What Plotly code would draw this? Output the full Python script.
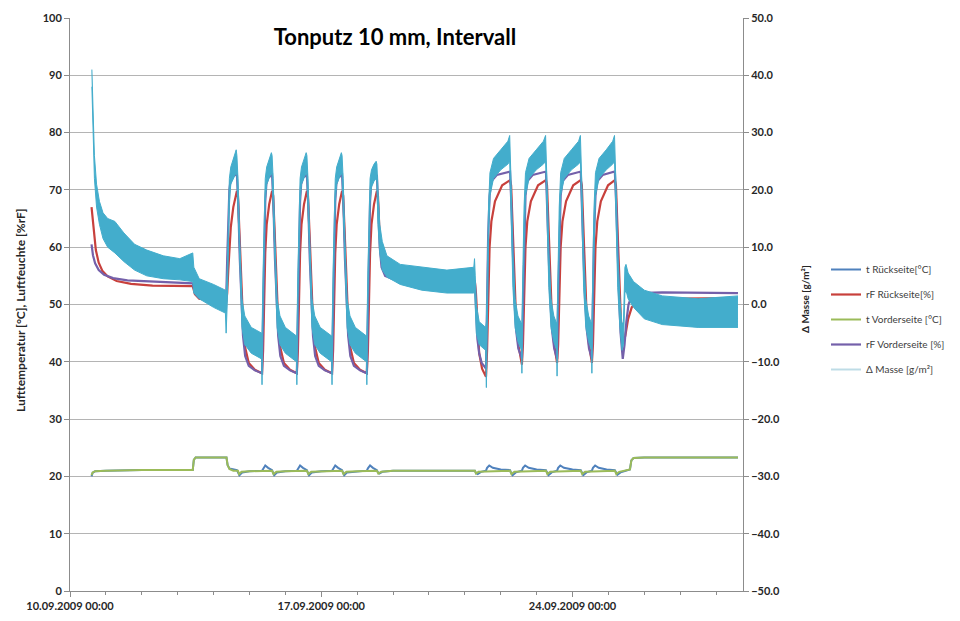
import pandas as pd
import plotly.graph_objects as go

BASE = pd.Timestamp("2009-09-10 00:00")

# ---------------- data (time in days since 10.09.2009 00:00) ----------------
# rF Vorderseite [%]
rf_vorder = [
    (0.60, 60.5), (0.64, 58.6), (0.70, 57.2), (0.80, 56.0), (0.95, 55.2), (1.20, 54.6), (1.60, 54.2),
    (2.20, 54.0), (3.00, 53.8), (3.42, 53.7), (3.48, 52.0), (3.60, 51.2), (4.00, 50.8), (4.35, 50.6),
    (4.38, 58.0), (4.41, 66.0), (4.44, 70.0), (4.47, 71.5), (4.53, 72.3), (4.65, 72.8),
    (4.69, 67.0), (4.73, 58.0), (4.77, 50.5), (4.82, 44.5), (4.88, 41.0), (4.98, 39.3), (5.15, 38.5), (5.35, 38.0),
    (5.38, 48.0), (5.41, 60.0), (5.44, 68.0), (5.47, 71.0), (5.53, 72.2), (5.63, 72.6),
    (5.67, 67.0), (5.71, 58.0), (5.75, 50.5), (5.80, 44.5), (5.86, 41.0), (5.96, 39.3), (6.13, 38.5), (6.32, 38.0),
    (6.35, 48.0), (6.38, 60.0), (6.41, 68.0), (6.44, 71.0), (6.50, 72.2), (6.60, 72.6),
    (6.64, 67.0), (6.68, 58.0), (6.72, 50.5), (6.77, 44.5), (6.83, 41.0), (6.93, 39.3), (7.10, 38.5), (7.30, 38.0),
    (7.33, 48.0), (7.36, 60.0), (7.39, 68.0), (7.42, 71.0), (7.48, 72.2), (7.58, 72.6),
    (7.62, 67.0), (7.66, 58.0), (7.70, 50.5), (7.75, 44.5), (7.81, 41.0), (7.91, 39.3), (8.08, 38.5), (8.27, 38.0),
    (8.30, 48.0), (8.33, 60.0), (8.36, 68.0), (8.39, 71.0), (8.45, 72.2), (8.55, 72.6),
    (8.59, 66.0), (8.63, 60.0), (8.68, 56.5), (8.78, 55.0), (9.00, 54.4), (9.60, 54.1), (11.28, 54.0),
    (11.31, 49.0), (11.35, 44.0), (11.40, 41.5), (11.47, 39.8), (11.59, 38.8),
    (11.62, 50.0), (11.65, 62.0), (11.69, 69.0), (11.74, 71.5), (11.89, 72.6), (12.26, 73.2),
    (12.30, 67.0), (12.34, 58.0), (12.38, 51.0), (12.43, 45.5), (12.49, 42.3), (12.59, 40.5),
    (12.62, 51.0), (12.65, 62.0), (12.69, 69.0), (12.74, 71.5), (12.89, 72.6), (13.26, 73.2),
    (13.30, 67.0), (13.34, 58.0), (13.38, 51.0), (13.43, 45.5), (13.49, 42.3), (13.57, 40.5),
    (13.60, 51.0), (13.63, 62.0), (13.67, 69.0), (13.72, 71.5), (13.87, 72.6), (14.23, 73.2),
    (14.27, 67.0), (14.31, 58.0), (14.35, 51.0), (14.40, 45.5), (14.46, 42.3), (14.54, 40.5),
    (14.57, 51.0), (14.60, 62.0), (14.64, 69.0), (14.69, 71.5), (14.84, 72.6), (15.18, 73.2),
    (15.22, 67.0), (15.26, 58.0), (15.30, 51.0), (15.34, 45.0), (15.40, 40.5),
    (15.45, 43.0), (15.50, 47.0), (15.56, 50.0), (15.65, 51.5), (15.80, 52.0), (16.50, 52.1), (18.61, 52.0),
]

# rF Rückseite [%]
rf_rueck = [
    (0.60, 67.0), (0.62, 65.5), (0.66, 62.5), (0.72, 59.5), (0.80, 57.3), (0.90, 55.9), (1.05, 54.9),
    (1.30, 54.1), (1.70, 53.6), (2.30, 53.3), (3.42, 53.2), (3.48, 51.8), (3.60, 51.0), (4.00, 50.6), (4.35, 50.4),
    (4.38, 52.0), (4.41, 56.0), (4.44, 60.0), (4.48, 63.5), (4.55, 67.0), (4.65, 69.8),
    (4.68, 69.0), (4.72, 63.0), (4.77, 54.0), (4.82, 47.0), (4.88, 42.5), (4.98, 39.8), (5.15, 38.6), (5.35, 38.0),
    (5.38, 42.0), (5.41, 52.0), (5.44, 59.0), (5.48, 64.0), (5.55, 67.5), (5.63, 69.8),
    (5.66, 69.0), (5.70, 63.0), (5.75, 54.0), (5.80, 47.0), (5.86, 42.5), (5.96, 39.8), (6.13, 38.6), (6.32, 38.0),
    (6.35, 42.0), (6.38, 52.0), (6.41, 59.0), (6.45, 64.0), (6.52, 67.5), (6.60, 69.8),
    (6.63, 69.0), (6.67, 63.0), (6.72, 54.0), (6.77, 47.0), (6.83, 42.5), (6.93, 39.8), (7.10, 38.6), (7.30, 38.0),
    (7.33, 42.0), (7.36, 52.0), (7.39, 59.0), (7.43, 64.0), (7.50, 67.5), (7.58, 69.8),
    (7.61, 69.0), (7.65, 63.0), (7.70, 54.0), (7.75, 47.0), (7.81, 42.5), (7.91, 39.8), (8.08, 38.6), (8.27, 38.0),
    (8.30, 42.0), (8.33, 52.0), (8.36, 59.0), (8.40, 64.0), (8.47, 67.5), (8.55, 69.8),
    (8.58, 69.0), (8.62, 63.0), (8.68, 58.0), (8.78, 55.5), (9.00, 54.5), (9.60, 54.1), (11.28, 54.0),
    (11.31, 52.0), (11.35, 46.0), (11.40, 41.5), (11.48, 38.8), (11.59, 37.4),
    (11.62, 42.0), (11.65, 53.0), (11.69, 60.0), (11.74, 64.5), (11.84, 68.0), (12.04, 70.8), (12.26, 71.7),
    (12.29, 70.8), (12.33, 64.0), (12.38, 54.0), (12.43, 47.0), (12.49, 43.0), (12.59, 39.5),
    (12.62, 43.0), (12.65, 53.0), (12.69, 60.0), (12.74, 64.5), (12.84, 68.0), (13.04, 70.8), (13.26, 71.7),
    (13.29, 70.8), (13.33, 64.0), (13.38, 54.0), (13.43, 47.0), (13.49, 43.0), (13.57, 39.8),
    (13.60, 43.0), (13.63, 53.0), (13.67, 60.0), (13.72, 64.5), (13.82, 68.0), (14.02, 70.8), (14.23, 71.7),
    (14.26, 70.8), (14.30, 64.0), (14.35, 54.0), (14.40, 47.0), (14.46, 43.0), (14.54, 39.8),
    (14.57, 43.0), (14.60, 53.0), (14.64, 60.0), (14.69, 64.5), (14.79, 68.0), (14.99, 70.8), (15.18, 71.7),
    (15.21, 70.8), (15.25, 64.0), (15.30, 54.0), (15.35, 47.0), (15.41, 43.5), (15.47, 44.5), (15.55, 47.5),
    (15.65, 49.5), (15.80, 50.6), (16.10, 51.0), (18.61, 51.1),
]

# t Vorderseite [°C]
t_vorder = [
    (0.60, 20.2), (0.63, 20.7), (0.70, 20.9), (1.00, 21.0), (2.00, 21.1), (3.42, 21.1), (3.45, 22.9),
    (3.50, 23.3), (4.36, 23.3), (4.39, 22.0), (4.44, 21.3), (4.55, 21.0), (4.68, 21.0), (4.71, 20.4),
    (4.78, 20.8), (5.00, 20.9), (5.63, 21.0), (5.67, 20.4), (5.75, 20.8), (6.00, 20.9), (6.60, 21.0),
    (6.64, 20.4), (6.72, 20.8), (7.00, 20.9), (7.58, 21.0), (7.62, 20.4), (7.70, 20.8), (8.00, 20.9),
    (8.55, 21.0), (8.59, 20.5), (8.67, 20.8), (9.00, 21.0), (11.28, 21.0), (11.31, 20.5), (11.38, 20.8),
    (12.26, 21.0), (12.30, 20.4), (12.38, 20.8), (13.26, 21.0), (13.30, 20.4), (13.38, 20.8),
    (14.23, 21.0), (14.27, 20.4), (14.35, 20.8), (15.18, 21.0), (15.22, 20.4), (15.30, 20.8),
    (15.60, 21.2), (15.64, 22.8), (15.70, 23.2), (16.00, 23.3), (18.61, 23.3),
]

# t Rückseite [°C]
t_rueck = [
    (0.60, 20.0), (0.63, 20.6), (0.70, 20.9), (1.00, 21.0), (2.00, 21.1), (3.42, 21.1), (3.45, 22.9),
    (3.50, 23.3), (4.36, 23.3), (4.39, 22.0), (4.44, 21.4), (4.55, 21.2), (4.65, 21.1), (4.69, 20.6),
    (4.72, 20.2), (4.80, 20.7), (5.00, 20.9),
    (5.35, 21.0), (5.38, 21.4), (5.44, 21.9), (5.52, 21.5), (5.63, 21.1), (5.66, 20.6), (5.69, 20.2), (5.77, 20.7), (6.00, 20.9),
    (6.32, 21.0), (6.35, 21.4), (6.41, 21.9), (6.49, 21.5), (6.60, 21.1), (6.63, 20.6), (6.66, 20.2), (6.74, 20.7), (7.00, 20.9),
    (7.30, 21.0), (7.33, 21.4), (7.39, 21.9), (7.47, 21.5), (7.58, 21.1), (7.61, 20.6), (7.64, 20.2), (7.72, 20.7), (8.00, 20.9),
    (8.27, 21.0), (8.30, 21.4), (8.36, 21.9), (8.44, 21.5), (8.55, 21.1), (8.58, 20.7), (8.62, 20.5), (8.70, 20.8), (9.00, 21.0),
    (11.28, 21.0), (11.31, 20.6), (11.36, 20.4), (11.45, 20.8),
    (11.59, 21.0), (11.62, 21.5), (11.68, 21.9), (11.78, 21.5), (12.00, 21.2), (12.26, 21.1), (12.29, 20.6), (12.33, 20.2), (12.42, 20.7),
    (12.59, 21.0), (12.62, 21.5), (12.68, 21.9), (12.78, 21.5), (13.00, 21.2), (13.26, 21.1), (13.29, 20.6), (13.33, 20.2), (13.42, 20.7),
    (13.57, 21.0), (13.60, 21.5), (13.66, 21.9), (13.76, 21.5), (14.00, 21.2), (14.23, 21.1), (14.26, 20.6), (14.30, 20.2), (14.39, 20.7),
    (14.54, 21.0), (14.57, 21.5), (14.63, 21.9), (14.73, 21.5), (14.95, 21.2), (15.18, 21.1), (15.21, 20.6), (15.25, 20.3), (15.34, 20.7),
    (15.60, 21.2), (15.64, 22.8), (15.70, 23.2), (16.00, 23.3), (18.61, 23.3),
]

# Δ Masse [g/m²]: (time, lower edge, upper edge) of the noisy band
d_masse = [
    (0.61, 38.0, 41.0), (0.64, 30.0, 34.0), (0.68, 22.0, 26.0), (0.74, 17.0, 21.0), (0.82, 14.0, 18.0),
    (0.92, 11.5, 16.0), (1.05, 10.0, 15.0), (1.25, 9.0, 14.5), (1.50, 7.5, 12.5), (1.80, 6.0, 10.5),
    (2.14, 5.0, 9.5), (2.60, 4.5, 8.5), (3.06, 4.3, 8.0), (3.42, 4.0, 9.0), (3.45, 2.0, 6.5),
    (3.60, 1.0, 4.5), (4.00, -0.5, 3.5), (4.33, -1.5, 2.5),
    (4.35, -5.0, 2.0), (4.38, 0.0, 6.0), (4.41, 11.0, 16.0), (4.44, 18.0, 22.0), (4.48, 21.0, 24.0),
    (4.55, 22.0, 25.5), (4.63, 23.0, 27.0), (4.65, 22.5, 26.0), (4.68, 17.0, 22.0), (4.73, 5.0, 11.0),
    (4.79, -4.0, 1.0), (4.87, -7.0, -2.0), (5.05, -8.5, -4.0), (5.34, -9.5, -5.0),
    (5.35, -14.0, -5.0), (5.38, 0.0, 6.0), (5.41, 11.0, 16.0), (5.44, 18.0, 22.0), (5.48, 21.0, 24.0),
    (5.55, 22.0, 25.5), (5.61, 23.0, 26.5), (5.63, 22.5, 26.0), (5.66, 17.0, 22.0), (5.71, 5.0, 11.0),
    (5.77, -4.0, 1.0), (5.85, -7.0, -2.0), (6.00, -8.5, -4.0), (6.31, -10.0, -5.5),
    (6.32, -14.0, -5.5), (6.35, 0.0, 6.0), (6.38, 11.0, 16.0), (6.41, 18.0, 22.0), (6.45, 21.0, 24.0),
    (6.52, 22.0, 25.5), (6.58, 23.0, 26.5), (6.60, 22.5, 26.0), (6.63, 17.0, 22.0), (6.68, 5.0, 11.0),
    (6.74, -4.0, 1.0), (6.82, -7.0, -2.0), (6.97, -8.5, -4.0), (7.29, -10.0, -5.5),
    (7.30, -14.0, -5.5), (7.33, 0.0, 6.0), (7.36, 11.0, 16.0), (7.39, 18.0, 22.0), (7.43, 21.0, 24.0),
    (7.50, 22.0, 25.5), (7.56, 23.0, 26.5), (7.58, 22.5, 26.0), (7.61, 17.0, 22.0), (7.66, 5.0, 11.0),
    (7.72, -4.0, 1.0), (7.80, -7.0, -2.0), (7.95, -8.5, -4.0), (8.26, -10.0, -5.5),
    (8.27, -14.0, -5.5), (8.30, 0.0, 6.0), (8.33, 11.0, 16.0), (8.36, 18.0, 22.0), (8.40, 20.5, 23.5),
    (8.47, 21.5, 24.5), (8.53, 22.0, 25.0), (8.55, 21.5, 24.5), (8.58, 14.0, 20.0), (8.63, 9.0, 14.0),
    (8.70, 6.0, 11.0), (8.83, 4.8, 8.5), (9.20, 3.5, 7.0), (9.80, 2.5, 6.5), (10.50, 2.0, 6.0),
    (11.25, 2.0, 6.5),
    (11.27, 3.0, 8.0), (11.29, -1.0, 5.0), (11.32, -5.0, 0.0), (11.40, -7.0, -3.0), (11.58, -8.0, -4.0),
    (11.60, -14.5, -3.0), (11.63, 2.0, 7.0), (11.66, 12.0, 17.0), (11.70, 19.0, 23.0), (11.80, 22.0, 25.5),
    (12.00, 23.5, 27.0), (12.20, 24.5, 28.5), (12.25, 25.0, 29.5), (12.26, 23.0, 28.0), (12.29, 16.0, 21.0),
    (12.34, 3.0, 9.0), (12.40, -4.0, 1.0), (12.48, -6.5, -2.0), (12.58, -8.0, -3.5),
    (12.59, -12.0, -3.5), (12.62, 2.0, 7.0), (12.65, 12.0, 17.0), (12.69, 19.0, 23.0), (12.79, 22.0, 25.5),
    (12.99, 23.5, 27.0), (13.19, 24.5, 28.5), (13.25, 25.0, 29.5), (13.26, 23.0, 28.0), (13.29, 16.0, 21.0),
    (13.34, 3.0, 9.0), (13.40, -4.0, 1.0), (13.48, -6.5, -2.0), (13.56, -8.0, -3.5),
    (13.57, -12.5, -3.5), (13.60, 2.0, 7.0), (13.63, 12.0, 17.0), (13.67, 19.0, 23.0), (13.77, 22.0, 25.5),
    (13.97, 23.5, 27.0), (14.17, 24.5, 28.5), (14.22, 25.0, 29.5), (14.23, 23.0, 28.0), (14.26, 16.0, 21.0),
    (14.31, 3.0, 9.0), (14.37, -4.0, 1.0), (14.45, -6.5, -2.0), (14.53, -8.0, -3.5),
    (14.54, -12.0, -3.5), (14.57, 2.0, 7.0), (14.60, 12.0, 17.0), (14.64, 19.0, 23.0), (14.74, 22.0, 25.5),
    (14.94, 23.5, 27.0), (15.12, 24.5, 28.5), (15.17, 25.0, 29.5), (15.18, 23.0, 28.0), (15.21, 16.0, 21.0),
    (15.26, 3.0, 9.0), (15.32, -4.0, 1.0), (15.38, -8.0, -3.5), (15.42, -7.0, -3.0), (15.46, 2.0, 6.5),
    (15.49, 2.5, 7.0), (15.55, 1.0, 5.5), (15.70, -0.5, 4.0), (16.00, -2.5, 2.5), (16.50, -3.5, 1.5),
    (17.50, -4.0, 1.0), (18.61, -4.0, 1.5),
]

series_names = ["t Rückseite[°C]", "rF Rückseite[%]", "t Vorderseite [°C]", "rF Vorderseite [%]", "Δ Masse [g/m²]"]
series_colors = ["#4F81BD", "#C8403C", "#9BBB59", "#7460AA", "#43ADCC"]
legend_masse_color = "#BEDCE6"

tick_dates = ["2009-09-10", "2009-09-17", "2009-09-24"]
tick_labels = ["10.09.2009 00:00", "17.09.2009 00:00", "24.09.2009 00:00"]
x_end_days = 18.75


def times(rows):
    return list(BASE + pd.to_timedelta([r[0] for r in rows], unit="D"))


fig = go.Figure()
for rows, name, color, width in [
    (t_rueck, series_names[0], series_colors[0], 2),
    (rf_rueck, series_names[1], series_colors[1], 2.2),
    (t_vorder, series_names[2], series_colors[2], 2),
    (rf_vorder, series_names[3], series_colors[3], 2.2),
]:
    fig.add_trace(go.Scatter(
        x=times(rows), y=[r[1] for r in rows], mode="lines", name=name,
        line=dict(color=color, width=width), legendgroup=name, yaxis="y",
    ))

mx = times(d_masse)
fig.add_trace(go.Scatter(x=mx, y=[r[1] for r in d_masse], mode="lines", yaxis="y2",
                         line=dict(color=series_colors[4], width=1), showlegend=False))
fig.add_trace(go.Scatter(x=mx, y=[r[2] for r in d_masse], mode="lines", yaxis="y2",
                         line=dict(color=series_colors[4], width=1), fill="tonexty",
                         fillcolor=series_colors[4], showlegend=False))
fig.add_trace(go.Scatter(x=[None], y=[None], mode="lines", yaxis="y2", name=series_names[4],
                         legendgroup=series_names[4], line=dict(color=legend_masse_color, width=2)))

tick_font = dict(family="Lato", size=11, color="#262626", weight="bold")
axis_col = "#8C8C8C"

# the page body adds an 8px offset, so the figure is 8px smaller than the window
W, H = 952, 613
fig.update_layout(
    width=W, height=H,
    margin=dict(l=62, r=217, t=10, b=30),
    paper_bgcolor="white", plot_bgcolor="white",
    showlegend=True,
    title=dict(text="Tonputz 10 mm, Intervall", x=387 / W, xanchor="center", y=1 - 29 / H, yanchor="middle",
               font=dict(family="Lato", size=22, color="#000000", weight="bold")),
    xaxis=dict(
        type="date", range=[BASE, BASE + pd.Timedelta(days=x_end_days)],
        tickvals=tick_dates, ticktext=tick_labels, tickfont=tick_font,
        showgrid=False, zeroline=False, showline=True, linecolor=axis_col, linewidth=1,
        ticks="outside", ticklen=5, tickcolor=axis_col,
        minor=dict(dtick=86400000, tick0="2009-09-10", ticks="outside", ticklen=3, tickcolor=axis_col, showgrid=False),
        automargin=False,
    ),
    yaxis=dict(
        range=[0, 100], dtick=10, tick0=0, tickfont=tick_font,
        showgrid=True, gridcolor="#B4B4B4", gridwidth=1, zeroline=False,
        showline=True, linecolor=axis_col, ticks="outside", ticklen=5, tickcolor=axis_col,
        automargin=False,
    ),
    yaxis2=dict(
        range=[-50, 50], dtick=10, tick0=0, tickformat=".1f", tickfont=tick_font,
        overlaying="y", side="right", showgrid=False, zeroline=False,
        showline=True, linecolor=axis_col, ticks="outside", ticklen=5, tickcolor=axis_col,
        automargin=False,
    ),
    legend=dict(
        x=(826 - 70) / 673, xanchor="left", y=(591 - 255) / 573, yanchor="top",
        font=dict(family="Lato", size=10, color="#404040"),
        bgcolor="rgba(0,0,0,0)", itemwidth=30, tracegroupgap=6,
    ),
    annotations=[
        dict(text="Lufttemperatur [°C], Luftfeuchte [%rF]", textangle=-90, xref="paper", yref="paper",
             x=(20 - 70) / 673, y=(591 - 310) / 573, xanchor="center", yanchor="middle", showarrow=False,
             font=dict(family="Lato", size=12, color="#262626", weight="bold")),
        dict(text="Δ Masse [g/m²]", textangle=-90, xref="paper", yref="paper",
             x=(805 - 70) / 673, y=(591 - 299) / 573, xanchor="center", yanchor="middle", showarrow=False,
             font=dict(family="Lato", size=10, color="#262626", weight="bold")),
    ],
)

fig.write_html("out.html")
